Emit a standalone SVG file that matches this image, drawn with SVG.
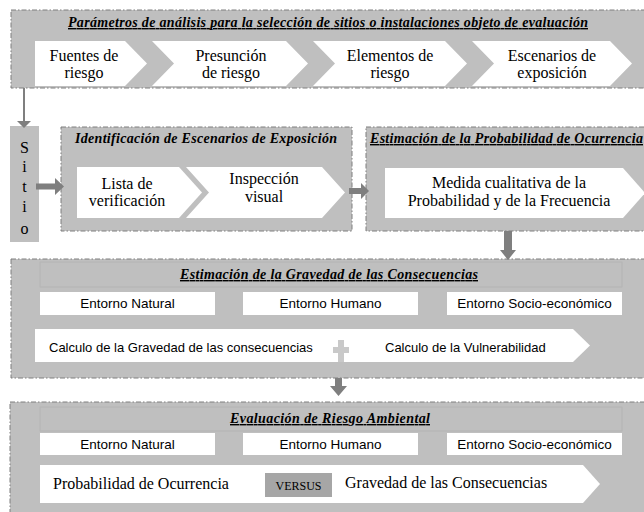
<svg xmlns="http://www.w3.org/2000/svg" width="644" height="512" viewBox="0 0 644 512">
<defs>
<style>
.panel{fill:#bfbfbf;stroke:#7f7f7f;stroke-width:1;stroke-dasharray:5 2 1.5 2}
.bar{fill:#bfbfbf;stroke:#b2b2b2;stroke-width:0.8}
.w{fill:#ffffff}
.ttl{font-family:"Liberation Serif","Times New Roman",serif;font-weight:bold;font-style:italic;font-size:14px;fill:#000}
.ul{text-decoration:underline}
.t{font-family:"Liberation Serif","Times New Roman",serif;font-size:16px;fill:#000}
.s{font-family:"Liberation Sans",Arial,sans-serif;font-size:13px;fill:#000}
.b{font-size:13.5px}
.arr{fill:#7f7f7f}
</style>
</defs>
<rect width="644" height="512" fill="#ffffff"/>

<g id="panel-parametros">
<rect class="panel" x="11" y="10" width="650" height="78"/>
<text class="ttl ul" x="328" y="27" text-anchor="middle" textLength="520" lengthAdjust="spacing">Parámetros de análisis para la selección de sitios o instalaciones objeto de evaluación</text>
<g id="fuentes">
<polygon class="w" points="35,41 125,41 147,63.5 125,86 35,86"/>
<text class="t" x="84" y="61" text-anchor="middle">Fuentes de</text>
<text class="t" x="84" y="78" text-anchor="middle">riesgo</text>
</g>
<g id="presuncion">
<polygon class="w" points="152,41 286,41 308,63.5 286,86 152,86 174,63.5"/>
<text class="t" x="231" y="61" text-anchor="middle">Presunción</text>
<text class="t" x="231" y="78" text-anchor="middle">de riesgo</text>
</g>
<g id="elementos">
<polygon class="w" points="313,41 445,41 467,63.5 445,86 313,86 335,63.5"/>
<text class="t" x="390" y="61" text-anchor="middle">Elementos de</text>
<text class="t" x="390" y="78" text-anchor="middle">riesgo</text>
</g>
<g id="escenarios">
<polygon class="w" points="472,41 610,41 632,63.5 610,86 472,86 494,63.5"/>
<text class="t" x="552" y="61" text-anchor="middle">Escenarios de</text>
<text class="t" x="552" y="78" text-anchor="middle">exposición</text>
</g>
</g>

<g id="sitio">
<rect x="10" y="126" width="29" height="116" fill="#bfbfbf"/>
<text class="t" x="24.5" y="153" text-anchor="middle">S</text>
<text class="t" x="24.5" y="172" text-anchor="middle">i</text>
<text class="t" x="24.5" y="192" text-anchor="middle">t</text>
<text class="t" x="24.5" y="212" text-anchor="middle">i</text>
<text class="t" x="24.5" y="234" text-anchor="middle">o</text>
</g>

<g id="panel-identificacion">
<rect class="panel" x="61" y="127" width="291" height="104"/>
<text class="ttl" x="206" y="143" text-anchor="middle" textLength="262" lengthAdjust="spacing">Identificación de Escenarios de Exposición</text>
<g id="lista">
<polygon class="w" points="77,167 179,167 202,192.5 179,218 77,218"/>
<text class="t" x="127" y="189" text-anchor="middle">Lista de</text>
<text class="t" x="127" y="206" text-anchor="middle">verificación</text>
</g>
<g id="inspeccion">
<polygon class="w" points="186,167 322,167 345,192.5 322,218 186,218 209,192.5"/>
<text class="t" x="264" y="184" text-anchor="middle">Inspección</text>
<text class="t" x="264" y="202" text-anchor="middle">visual</text>
</g>
</g>

<g id="panel-probabilidad">
<rect class="panel" x="366" y="127" width="300" height="104"/>
<text class="ttl ul" x="370" y="143" textLength="273" lengthAdjust="spacing">Estimación de la Probabilidad de Ocurrencia</text>
<g id="medida">
<polygon class="w" points="385,168 623,168 645,193 623,218 385,218"/>
<text class="t" x="509" y="188" text-anchor="middle">Medida cualitativa de la</text>
<text class="t" x="509" y="206" text-anchor="middle">Probabilidad y de la Frecuencia</text>
</g>
</g>

<g id="panel-gravedad">
<rect class="panel" x="11" y="259" width="650" height="119"/>
<rect class="bar" x="40" y="262" width="582" height="25"/>
<text class="ttl ul" x="329" y="279" text-anchor="middle" textLength="298" lengthAdjust="spacing">Estimación de la Gravedad de las Consecuencias</text>
<g id="g-natural">
<rect class="w" x="40" y="292" width="175" height="23"/>
<text class="s b" x="127.5" y="308" text-anchor="middle">Entorno Natural</text>
</g>
<g id="g-humano">
<rect class="w" x="243" y="292" width="175" height="23"/>
<text class="s b" x="330.5" y="308" text-anchor="middle">Entorno Humano</text>
</g>
<g id="g-socio">
<rect class="w" x="447" y="292" width="175" height="23"/>
<text class="s b" x="534.5" y="308" text-anchor="middle">Entorno Socio-económico</text>
</g>
<g id="calculo">
<polygon class="w" points="35,329 573,329 590,345.5 573,362 35,362"/>
<text class="s" x="49" y="352">Calculo de la Gravedad  de las consecuencias</text>
<path d="M338,340 h6 v7 h5 v6 h-5 v9 h-6 v-9 h-5 v-6 h5 z" fill="#c9c9c9"/>
<text class="s" x="385" y="352">Calculo de la Vulnerabilidad</text>
</g>
</g>

<g id="panel-evaluacion">
<rect class="panel" x="10" y="402" width="650" height="120"/>
<rect class="bar" x="40" y="407" width="582" height="24"/>
<text class="ttl ul" x="330" y="423" text-anchor="middle" textLength="200" lengthAdjust="spacing">Evaluación de Riesgo Ambiental</text>
<g id="e-natural">
<rect class="w" x="40" y="433" width="175" height="22"/>
<text class="s b" x="127.5" y="449" text-anchor="middle">Entorno Natural</text>
</g>
<g id="e-humano">
<rect class="w" x="243" y="433" width="175" height="22"/>
<text class="s b" x="330.5" y="449" text-anchor="middle">Entorno Humano</text>
</g>
<g id="e-socio">
<rect class="w" x="447" y="433" width="175" height="22"/>
<text class="s b" x="534.5" y="449" text-anchor="middle">Entorno Socio-económico</text>
</g>
<g id="versus-row">
<polygon class="w" points="40,465 583,465 600,484 583,503 40,503"/>
<text class="t" x="53" y="489">Probabilidad de Ocurrencia</text>
<rect x="265" y="473" width="67" height="24" fill="#a6a6a6"/>
<text class="t" x="298.5" y="490" text-anchor="middle" style="font-size:12px">VERSUS</text>
<text class="t" x="345" y="488">Gravedad de las Consecuencias</text>
</g>
</g>

<g id="connectors">
<line x1="24" y1="88" x2="24" y2="122" stroke="#7f7f7f" stroke-width="2"/>
<polygon class="arr" points="17,121 31,121 24,128"/>
<polygon class="arr" points="36,183.5 55,183.5 55,178 64,186.5 55,195 55,189.5 36,189.5"/>
<polygon class="arr" points="349,188 361,188 361,183 369,191 361,199 361,194 349,194"/>
<polygon class="arr" points="504,231 512,231 512,250 516,250 508,260 500,250 504,250"/>
<polygon class="arr" points="335,378 342,378 342,386 347,386 338.5,396 330,386 335,386"/>
</g>
</svg>
